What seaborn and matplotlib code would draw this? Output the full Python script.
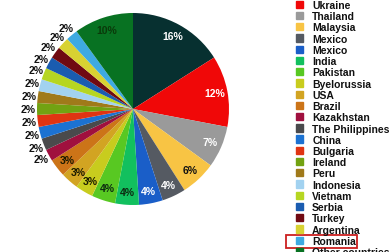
import matplotlib
matplotlib.use("Agg")
import matplotlib.pyplot as plt
import seaborn as sns
import numpy as np
from matplotlib.patches import Rectangle

sns.set_theme(style="white")
plt.rcParams['font.family'] = ['Liberation Sans', 'DejaVu Sans']

countries = ["(top)", "Ukraine", "Thailand", "Malaysia", "Mexico", "Mexico", "India",
             "Pakistan", "Byelorussia", "USA", "Brazil", "Kazakhstan",
             "The Philippines", "China", "Bulgaria", "Ireland", "Peru",
             "Indonesia", "Vietnam", "Serbia", "Turkey", "Argentina",
             "Romania", "Other countries"]
shares = [16, 12, 7, 6, 4, 4, 4, 4, 3, 3, 3, 2, 2, 2, 2, 2, 2, 2, 2, 2, 2, 2, 2, 10]
colors = ["#073030", "#f00808", "#9a9a9a", "#f8c444", "#555a62", "#1a5ec8",
          "#12c05e", "#58c822", "#c8cc1e", "#d2a422", "#cc7418", "#a0103e",
          "#4a4a4c", "#1c72d2", "#e03412", "#72a212", "#a07a1a", "#a2d2f0",
          "#b6d622", "#1a5cb0", "#700a12", "#d8d232", "#3eaae2", "#087222"]
label_colors = ["white", "white", "white", "#111111", "white", "white",
                "#0c2a10", "#0c2a10", "#1a1a00", "#1a1a00", "#1a1a00"] + ["#111111"] * 12 + ["#0a3a0a"]

palette = sns.color_palette(colors)

W, H = 392, 253
fig = plt.figure(figsize=(W / 100, H / 100), dpi=100)
cx, cy, r = 133, 110, 96
ax = fig.add_axes([(cx - r) / W, (H - cy - r) / H, 2 * r / W, 2 * r / H])
wedges, _ = ax.pie(shares, colors=palette, startangle=90, counterclock=False,
                   radius=1, wedgeprops=dict(linewidth=0))
ax.set_xlim(-1, 1)
ax.set_ylim(-1, 1)
ax.set_aspect("equal")
ax.axis("off")

for w, v, c in zip(wedges, shares, label_colors):
    ang = np.deg2rad((w.theta1 + w.theta2) / 2)
    d = 1.09 if v <= 2 else 0.87
    ax.text(d * np.cos(ang), d * np.sin(ang), f"{v}%", ha="center", va="center",
            fontsize=7.5, fontweight="bold", color=c)

handles = [Rectangle((0, 0), 1, 1, color=palette[i]) for i in range(1, len(countries))]
leg = fig.legend(handles, countries[1:], loc="upper left",
                 bbox_to_anchor=(296 / W, 1 - 1 / H), frameon=False,
                 fontsize=7.5, handlelength=0.7, handleheight=0.7,
                 handletextpad=0.85, labelspacing=0.118, borderpad=0,
                 borderaxespad=0)
for t in leg.get_texts():
    t.set_fontweight("bold")
    t.set_color("#111111")

fig.canvas.draw()
ren = fig.canvas.get_renderer()
idx = countries[1:].index("Romania")
bb = leg.get_texts()[idx].get_window_extent(ren)
x0 = 286
x1 = 357
y0 = bb.y0 - 2
y1 = bb.y1 + 1
fig.patches.append(Rectangle((x0 / W, y0 / H), (x1 - x0) / W, (y1 - y0) / H,
                             transform=fig.transFigure, fill=False,
                             edgecolor="#cc2020", linewidth=1.3))

fig.savefig("out.png", dpi=100)
